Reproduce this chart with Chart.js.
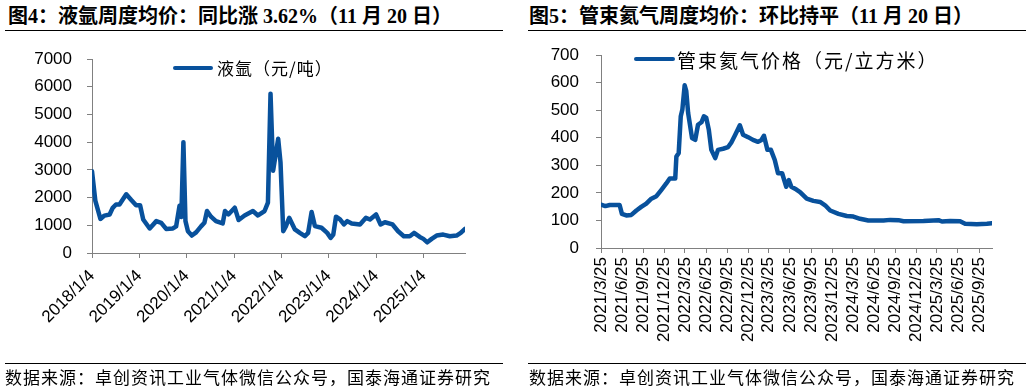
<!DOCTYPE html>
<html>
<head>
<meta charset="utf-8">
<script src="https://cdn.jsdelivr.net/npm/chart.js@4.4.1/dist/chart.umd.min.js"></script>
<style>
  body { margin: 0; background: #fff; width: 1032px; height: 391px; overflow: hidden; position: relative; }
  .panel { position: absolute; top: 0; width: 516px; height: 391px; }
  .panel canvas { position: absolute; left: 0; top: 0; }
  .title { position: absolute; top: 6px; font: bold 20px/20px "Liberation Serif", "Noto Sans CJK SC"; white-space: nowrap; color: #000; }
  .rule { position: absolute; height: 1px; width: 498px; background: #000; }
  .src { position: absolute; top: 368px; font: 17px/17px "Noto Sans CJK SC"; letter-spacing: 1px; white-space: nowrap; color: #000; }
  .lg-line { position: absolute; height: 4px; background: #08519c; border-radius: 2px; }
  .lg-text { position: absolute; font-family: "Noto Sans CJK SC"; white-space: nowrap; color: #000; }
</style>
</head>
<body>

<div class="panel" style="left:0">
  <div class="title" style="left:8px">图4：液氩周度均价：同比涨 3.62%（11 月 20 日）</div>
  <div class="rule" style="left:5px;top:30px"></div>
  <canvas id="argonChart" width="516" height="391"></canvas>
  <div class="lg-line" style="left:173px;top:66px;width:40px"></div>
  <div class="lg-text" style="left:217px;top:59px;font-size:17px;line-height:17px;letter-spacing:1px">液氩（元/吨）</div>
  <div class="rule" style="left:5px;top:363px"></div>
  <div class="src" style="left:5px">数据来源：卓创资讯工业气体微信公众号，国泰海通证券研究</div>
</div>

<div class="panel" style="left:516px">
  <div class="title" style="left:13px">图5：管束氦气周度均价：环比持平（11 月 20 日）</div>
  <div class="rule" style="left:12px;top:30px"></div>
  <canvas id="heliumChart" width="516" height="391"></canvas>
  <div class="lg-line" style="left:118px;top:57px;width:41px"></div>
  <div class="lg-text" style="left:161px;top:50px;font-size:19px;line-height:19px;letter-spacing:2px">管束氦气价格（元/立方米）</div>
  <div class="rule" style="left:12px;top:363px"></div>
  <div class="src" style="left:13px">数据来源：卓创资讯工业气体微信公众号，国泰海通证券研究</div>
</div>

<script>
// 液氩 (元/吨)
const argonDates = [
  "2018/1/4", "2018/1/30", "2018/3/10", "2018/4/10", "2018/5/20", "2018/6/13", "2018/7/8", "2018/8/4",
  "2018/9/25", "2018/11/3", "2018/12/10", "2019/1/10", "2019/2/3", "2019/3/25", "2019/5/15", "2019/6/22",
  "2019/7/30", "2019/9/20", "2019/10/15", "2019/11/10", "2019/11/24", "2019/12/10", "2019/12/26", "2020/1/14",
  "2020/2/13", "2020/3/17", "2020/4/24", "2020/5/20", "2020/6/9", "2020/7/10", "2020/8/17", "2020/10/8",
  "2020/10/26", "2020/11/21", "2021/1/9", "2021/2/8", "2021/3/26", "2021/5/29", "2021/7/7", "2021/8/27",
  "2021/9/22", "2021/10/12", "2021/11/1", "2021/12/10", "2021/12/28", "2022/1/18", "2022/2/8", "2022/3/5",
  "2022/4/18", "2022/5/26", "2022/7/4", "2022/7/29", "2022/8/25", "2022/9/19", "2022/11/9", "2022/12/23",
  "2023/1/19", "2023/2/8", "2023/3/1", "2023/4/1", "2023/5/1", "2023/5/27", "2023/6/30", "2023/9/2",
  "2023/10/18", "2023/11/18", "2024/1/4", "2024/2/8", "2024/3/12", "2024/5/10", "2024/6/22", "2024/8/5",
  "2024/9/20", "2024/10/23", "2024/12/6", "2025/1/3", "2025/2/2", "2025/3/8", "2025/4/15", "2025/6/5",
  "2025/7/26", "2025/9/16", "2025/10/18", "2025/11/20"
];
const argonPrices = [
  2950, 1880, 1230, 1350, 1390, 1630, 1750, 1750,
  2120, 1910, 1720, 1720, 1210, 885, 1150, 1090,
  870, 885, 960, 1700, 1300, 4000, 1150, 785,
  630, 745, 960, 1090, 1515, 1310, 1150, 1065,
  1515, 1390, 1635, 1190, 1355, 1515, 1355, 1515,
  1820, 5750, 2970, 4120, 3270, 785, 970, 1270,
  850, 725, 605, 725, 1480, 970, 910, 725,
  545, 665, 1310, 1210, 1030, 1150, 1065, 1030,
  1270, 1210, 1390, 1030, 1110, 1030, 785, 605,
  605, 725, 580, 510, 385, 510, 630, 665,
  605, 630, 725, 870
];
const argonTicks = ["2018/1/4", "2019/1/4", "2020/1/4", "2021/1/4", "2022/1/4", "2023/1/4", "2024/1/4", "2025/1/4"];

// 管束氦气价格 (元/立方米)
const heliumDates = [
  "2021/3/25", "2021/4/13", "2021/5/2", "2021/6/14", "2021/6/24", "2021/7/13", "2021/8/4", "2021/8/26",
  "2021/9/16", "2021/10/8", "2021/10/30", "2021/11/21", "2021/12/12", "2022/1/3", "2022/1/18", "2022/2/11",
  "2022/2/16", "2022/2/26", "2022/3/7", "2022/3/14", "2022/3/24", "2022/3/31", "2022/4/8", "2022/4/25",
  "2022/5/9", "2022/5/21", "2022/6/5", "2022/6/16", "2022/6/26", "2022/7/7", "2022/7/18", "2022/8/4",
  "2022/8/16", "2022/9/7", "2022/9/29", "2022/10/13", "2022/10/30", "2022/11/19", "2022/12/3", "2022/12/25",
  "2023/1/15", "2023/2/6", "2023/2/21", "2023/3/4", "2023/3/19", "2023/4/3", "2023/4/20", "2023/5/4",
  "2023/5/22", "2023/6/9", "2023/6/20", "2023/7/1", "2023/7/23", "2023/8/8", "2023/9/6", "2023/10/5",
  "2023/11/3", "2023/11/25", "2023/12/17", "2024/1/22", "2024/2/27", "2024/3/27", "2024/4/25", "2024/5/31",
  "2024/8/5", "2024/9/3", "2024/10/9", "2024/10/31", "2025/1/26", "2025/4/1", "2025/4/16", "2025/5/22",
  "2025/7/4", "2025/7/26", "2025/9/15", "2025/10/29", "2025/11/20"
];
const heliumPrices = [
  157, 152, 156, 156, 124, 118, 120, 136,
  149, 161, 179, 188, 210, 234, 252, 252,
  332, 344, 478, 502, 590, 569, 490, 399,
  392, 447, 456, 478, 472, 429, 356, 326,
  356, 360, 366, 383, 411, 445, 411, 402,
  392, 385, 392, 407, 356, 356, 319, 271,
  271, 222, 246, 222, 212, 203, 179, 171,
  167, 155, 136, 124, 116, 114, 106, 100,
  100, 102, 101, 97, 98, 101, 96, 98,
  97, 88, 86, 88, 90
];
const heliumTicks = [
  "2021/3/25", "2021/6/25", "2021/9/25", "2021/12/25", "2022/3/25", "2022/6/25", "2022/9/25",
  "2022/12/25", "2023/3/25", "2023/6/25", "2023/9/25", "2023/12/25", "2024/3/25", "2024/6/25",
  "2024/9/25", "2024/12/25", "2025/3/25", "2025/6/25", "2025/9/25"
];

function toTime(s) {
  const [y, m, d] = s.split("/").map(Number);
  return Date.UTC(y, m - 1, d);
}

const axisGrey = "#808080";
const tickFont = { family: "Liberation Sans", size: 17 };

function drawChart(id, dates, values, tickLabels, yMax, yStep, box) {
  const ctx = document.getElementById(id).getContext("2d");
  return new Chart(ctx, {
    type: "line",
    data: {
      datasets: [{
        data: dates.map((d, i) => ({ x: toTime(d), y: values[i] })),
        borderColor: "#08519c",
        borderWidth: 4.5,
        pointRadius: 0,
        tension: 0,
        borderJoinStyle: "round",
        borderCapStyle: "round"
      }]
    },
    options: {
      responsive: false,
      animation: false,
      devicePixelRatio: 1,
      layout: { padding: { left: 0, right: box.right, top: box.top, bottom: 0 } },
      plugins: { legend: { display: false }, tooltip: { enabled: false } },
      scales: {
        x: {
          type: "linear",
          min: toTime(dates[0]),
          max: toTime(dates[dates.length - 1]),
          afterBuildTicks: scale => { scale.ticks = tickLabels.map(s => ({ value: toTime(s) })); },
          afterFit: scale => { scale.height = box.xHeight; },
          border: { color: axisGrey, width: 1 },
          grid: { drawOnChartArea: false, drawTicks: true, tickLength: 5, color: axisGrey },
          ticks: {
            autoSkip: false,
            minRotation: box.rot,
            maxRotation: box.rot,
            padding: box.xPad,
            color: "#000",
            font: tickFont,
            callback: (v, i) => tickLabels[i]
          }
        },
        y: {
          min: 0,
          max: yMax,
          afterFit: scale => { scale.width = box.yWidth; },
          border: { color: axisGrey, width: 1 },
          grid: { drawOnChartArea: false, drawTicks: true, tickLength: 5, color: axisGrey },
          ticks: {
            stepSize: yStep,
            padding: box.yPad,
            color: "#000",
            font: tickFont,
            callback: v => String(v)
          }
        }
      }
    }
  });
}

drawChart("argonChart", argonDates, argonPrices, argonTicks, 7000, 1000,
  { right: 51, top: 59, yWidth: 92, xHeight: 138, rot: 45, yPad: 15, xPad: 8 });
drawChart("heliumChart", heliumDates, heliumPrices, heliumTicks, 700, 100,
  { right: 40, top: 55, yWidth: 85, xHeight: 143, rot: 90, yPad: 17, xPad: 4 });
</script>
</body>
</html>
